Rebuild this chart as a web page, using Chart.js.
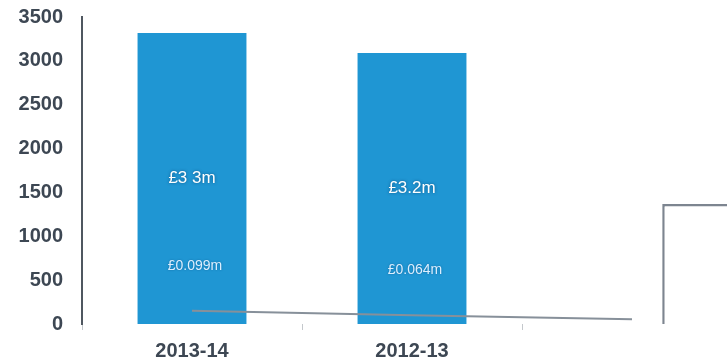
<!DOCTYPE html>
<html>
<head>
<meta charset="utf-8">
<script src="https://cdn.jsdelivr.net/npm/chart.js@4.4.1/dist/chart.umd.min.js"></script>
<style>
  html, body { margin: 0; padding: 0; background: #fff; overflow: hidden; }
  #wrap { width: 742px; height: 374px; position: relative; top: -14px; }
</style>
</head>
<body>
<div id="wrap"><canvas id="chart" width="742" height="374"></canvas></div>
<script>
  // 数据
  const categories = ['2013-14', '2012-13', ''];
  const totalValues = [3318, 3090, 0];          // 蓝色柱
  const outlineValues = [null, null, 1368];     // 右侧白色框柱
  const lineValues = [150, 100, 55];            // 灰色折线
  const bigLabels = ['£3 3m', '£3.2m'];
  const smallLabels = ['£0.099m', '£0.064m'];
  const yTicks = [0, 500, 1000, 1500, 2000, 2500, 3000, 3500];

  const FONT = '"Liberation Sans", Arial, sans-serif';

  // 柱内文字标签
  const barLabelPlugin = {
    id: 'barLabels',
    afterDatasetsDraw: function (chart) {
      const ctx = chart.ctx;
      const meta = chart.getDatasetMeta(1);
      const y = chart.scales.y;
      ctx.save();
      ctx.textAlign = 'center';
      ctx.textBaseline = 'middle';
      bigLabels.forEach(function (txt, i) {
        const bar = meta.data[i];
        ctx.font = '17px ' + FONT;
        ctx.shadowColor = 'rgba(0, 60, 110, 0.7)';
        ctx.shadowBlur = 3;
        ctx.fillStyle = '#ffffff';
        ctx.fillText(txt, bar.x, y.getPixelForValue(totalValues[i] / 2));
      });
      smallLabels.forEach(function (txt, i) {
        const bar = meta.data[i];
        ctx.font = '14px ' + FONT;
        ctx.shadowColor = 'rgba(0, 60, 110, 0.5)';
        ctx.shadowBlur = 2;
        ctx.fillStyle = '#dcefff';
        ctx.fillText(txt, bar.x + 3, y.getPixelForValue(totalValues[i] * 0.2));
      });
      ctx.restore();
    }
  };

  new Chart(document.getElementById('chart').getContext('2d'), {
    type: 'bar',
    data: {
      labels: categories,
      datasets: [
        {
          type: 'line',
          data: lineValues,
          borderColor: '#87909a',
          borderWidth: 2,
          pointRadius: 0,
          tension: 0,
          order: 0
        },
        {
          data: totalValues,
          backgroundColor: '#1f96d3',
          borderWidth: 0,
          categoryPercentage: 1,
          barPercentage: 0.495,
          skipNull: true,
          order: 1
        },
        {
          data: outlineValues,
          backgroundColor: '#ffffff',
          borderColor: '#7d8590',
          borderWidth: 2.5,
          categoryPercentage: 1.34,
          barPercentage: 0.59,
          skipNull: true,
          order: 1
        }
      ]
    },
    options: {
      responsive: false,
      animation: false,
      layout: { padding: { top: 3, right: 0, left: 0, bottom: 0 } },
      plugins: {
        legend: { display: false },
        tooltip: { enabled: false }
      },
      scales: {
        x: {
          offset: true,
          border: { display: false },
          grid: {
            display: true,
            offset: true,
            drawOnChartArea: false,
            drawTicks: true,
            tickLength: 6,
            color: '#c4c8cc'
          },
          ticks: {
            padding: 9,
            color: '#3d4753',
            font: { family: FONT, size: 20, weight: 'bold' }
          },
          afterFit: function (scale) {
            scale.height = 36;
          }
        },
        y: {
          min: 0,
          max: 3500,
          border: { display: true, color: '#4f5760', width: 2 },
          grid: { display: false, drawTicks: false },
          afterBuildTicks: function (scale) {
            scale.ticks = yTicks.map(function (v) {
              return { value: v };
            });
          },
          ticks: {
            padding: 19,
            color: '#3d4753',
            font: { family: FONT, size: 20, weight: 'bold' },
            callback: function (v) {
              return String(v);
            }
          },
          afterFit: function (scale) {
            scale.width = 82;
          }
        }
      }
    },
    plugins: [barLabelPlugin]
  });
</script>
</body>
</html>
